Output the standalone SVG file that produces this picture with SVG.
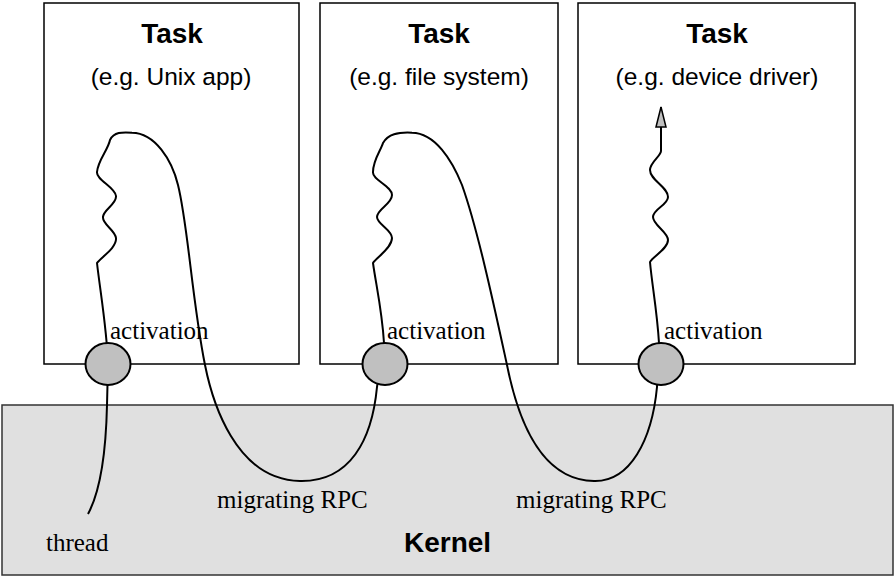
<svg xmlns="http://www.w3.org/2000/svg" width="895" height="577" viewBox="0 0 895 577">
<style>
.box{fill:#fff;stroke:#000;stroke-width:1.5}
.kernel{fill:#e0e0e0;stroke:#333;stroke-width:1.5}
.act{fill:#c0c0c0;stroke:#000;stroke-width:2}
.thr{fill:none;stroke:#000;stroke-width:2;stroke-linejoin:round}
.title{font-family:"Liberation Sans",Arial,sans-serif;font-weight:bold;font-size:28px;text-anchor:middle;fill:#000}
.sub{font-family:"Liberation Sans",Arial,sans-serif;font-size:24.5px;text-anchor:middle;fill:#000}
.lbl{font-family:"Liberation Serif","Times New Roman",serif;font-size:25px;fill:#000}
.klbl{font-family:"Liberation Sans",Arial,sans-serif;font-weight:bold;font-size:28px;fill:#000}
</style>
<defs>
<marker id="arr" markerUnits="userSpaceOnUse" markerWidth="22" markerHeight="12" refX="20" refY="5" orient="auto" viewBox="-1 -1 22 12">
<path d="M0,0 L20,5 L0,10 z" fill="#c0c0c0" stroke="#000" stroke-width="1.5"/>
</marker>
</defs>
<g id="kernel">
<rect class="kernel" x="2" y="405" width="891" height="170"/>
<text class="klbl" x="404" y="552">Kernel</text>
</g>
<g id="task1">
<rect class="box" x="44" y="3" width="255" height="361"/>
<text class="title" x="172" y="43">Task</text>
<text class="sub" x="171" y="85">(e.g. Unix app)</text>
</g>
<g id="task2">
<rect class="box" x="320" y="3" width="238" height="361"/>
<text class="title" x="439" y="43">Task</text>
<text class="sub" x="439" y="85">(e.g. file system)</text>
</g>
<g id="task3">
<rect class="box" x="578" y="3" width="277" height="361"/>
<text class="title" x="717" y="43">Task</text>
<text class="sub" x="717" y="85">(e.g. device driver)</text>
</g>
<g id="connectors">
<path class="thr" marker-end="url(#arr)" d="M88,514 C100,492 106,450 107,405 L108,364 C107,330 100,290 97,263 C100,258 117,248 116,238 C115,230 102,224 103,217 C103,210 117,204 116,196 C115,187 96,180 97,172 C98,160 108,150 110,140 C114,132 122,132 132,132.7 C155,133 172,160 178,185 C188,225 192,300 205,365 C212,400 235,480 300,481 C350,482 372,440 377,387 L384,343 C382,310 376,285 373,263 C376,258 392,248 392,238 C392,230 377,224 377,217 C377,209 392,204 392,195 C392,186 372,180 373,172 C373,160 381,150 383,143 C388,134 398,132 412,132.7 C435,133 452,160 462,185 C478,230 495,310 507,365 C515,405 535,480 594,481 C630,482 652,440 657,387 L659,343 C657,310 652,285 650,262 C652,257 668,249 668,240 C668,232 653,225 653,217 C653,209 668,205 668,197 C668,187 650,180 650,170 C650,162 661,156 661,151 L661,107"/>
<text class="lbl" x="217" y="508">migrating RPC</text>
<text class="lbl" x="516" y="508">migrating RPC</text>
<text class="lbl" x="46" y="551">thread</text>
</g>
<g id="activation1">
<ellipse class="act" cx="108" cy="364" rx="22.5" ry="21"/>
<text class="lbl" x="110" y="339">activation</text>
</g>
<g id="activation2">
<ellipse class="act" cx="385" cy="364" rx="22.5" ry="21"/>
<text class="lbl" x="387" y="339">activation</text>
</g>
<g id="activation3">
<ellipse class="act" cx="661" cy="364" rx="22.5" ry="21"/>
<text class="lbl" x="664" y="339">activation</text>
</g>
</svg>
